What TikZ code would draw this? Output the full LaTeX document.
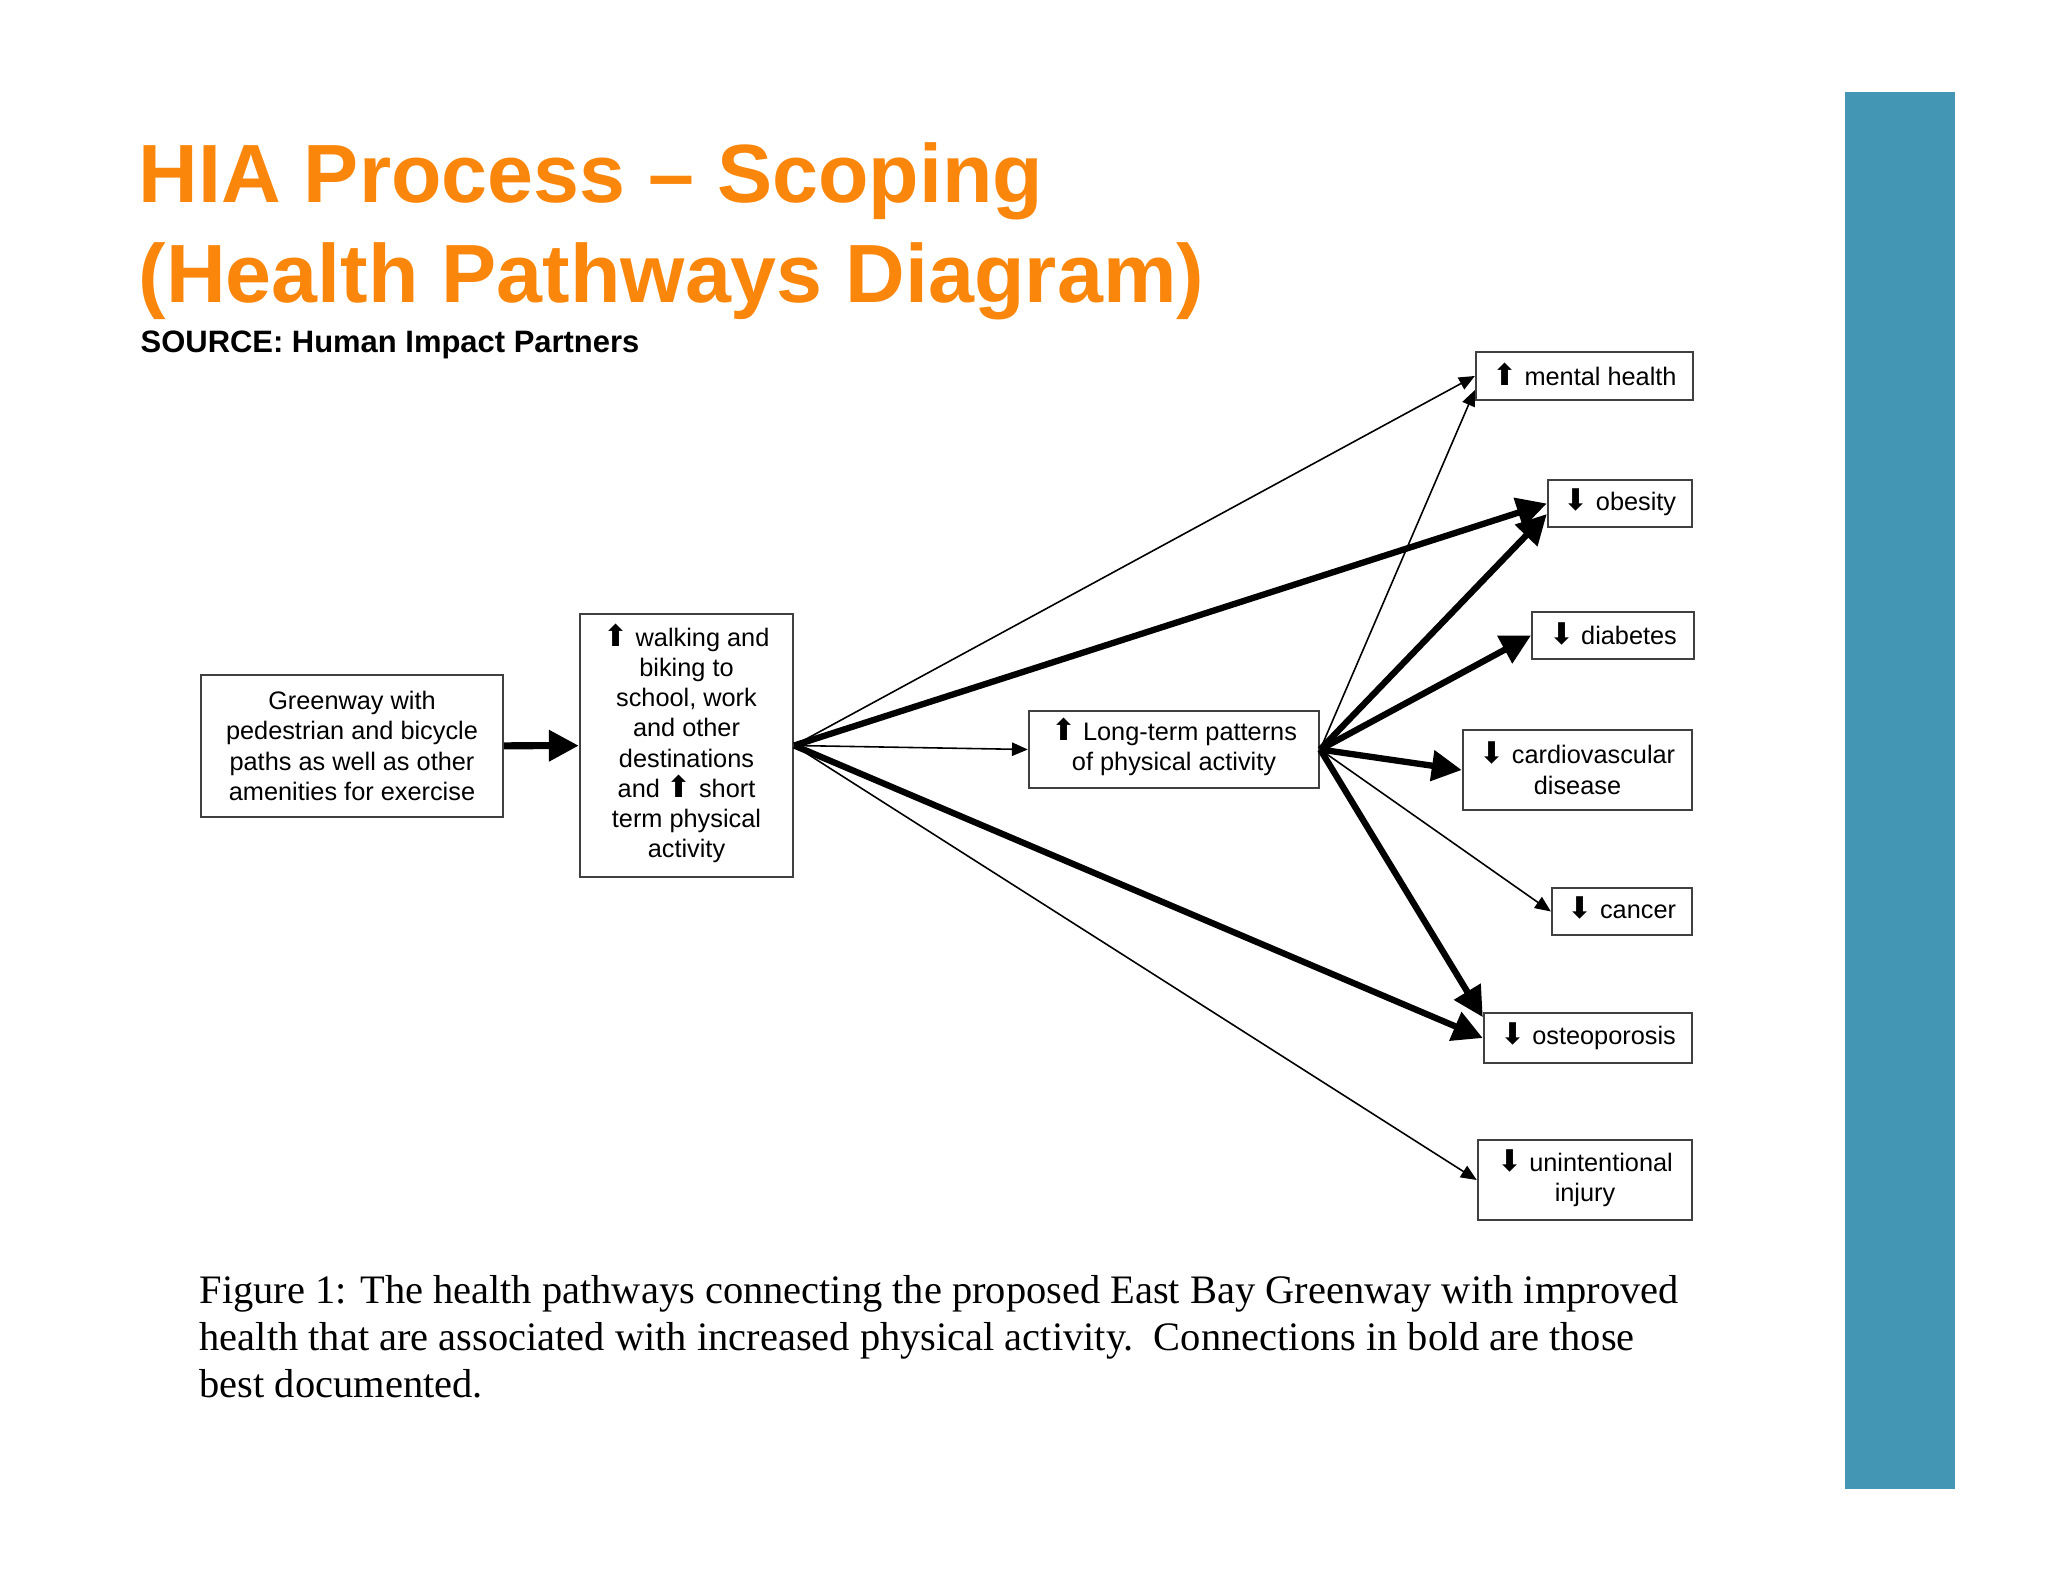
\documentclass[tikz,border=0pt]{standalone}
\usepackage{fontspec}
\setmainfont{Liberation Sans}
\newfontfamily\capfont{Liberation Serif}
\newfontfamily\arrfont{DejaVu Sans}
\usetikzlibrary{arrows.meta}
\definecolor{hiaorange}{RGB}{250,134,12}
\definecolor{hiablue}{RGB}{67,150,180}
\newcommand\boxfont{\fontsize{7.2}{8.6}\selectfont}
\newcommand\titlefont{\fontsize{23.5}{28}\selectfont\bfseries}
\newcommand\uparr{\smash{\arrfont\fontsize{8.5}{6}\selectfont ⬆}}
\newcommand\dnarr{\smash{\arrfont\fontsize{8.5}{6}\selectfont ⬇}}

\begin{document}
\begin{tikzpicture}[x=0.01cm,y=-0.01cm,
  box/.style={draw=black!75,line width=0.65pt,fill=white,align=center,font=\boxfont,inner sep=0pt},
  weak/.style={-{Triangle[length=4.5pt,width=3.8pt]},line width=0.45pt},
  strong/.style={-{Triangle[length=8.5pt,width=8.5pt]},line width=1.8pt}]
\useasboundingbox (0,0) rectangle (2048,1582);
\fill[hiablue] (1845,92) rectangle (1955,1489);
\node[anchor=base west,inner sep=0pt,text=hiaorange,font=\titlefont] (title) at (138,203) {HIA Process – Scoping};
\node[anchor=base west,inner sep=0pt,text=hiaorange,font=\titlefont] (title2) at (138,303) {(Health Pathways Diagram)};
\node[anchor=base west,inner sep=0pt,font=\fontsize{8.8}{10}\selectfont\bfseries] (source) at (140,352) {SOURCE: Human Impact Partners};

\node[box,minimum width=85.9pt,minimum height=40.4pt] (green) at (352,746) {Greenway with\\pedestrian and bicycle\\paths as well as other\\amenities for exercise};
\node[box,minimum width=60.6pt,minimum height=74.8pt] (walk) at (686.5,745.5) {\uparr{} walking and\\biking to\\school, work\\and other\\destinations\\and \uparr{} short\\term physical\\activity};
\node[box,minimum width=82.5pt,minimum height=21.9pt] (pattern) at (1174,749.5) {\uparr{} Long-term patterns\\of physical activity};
\node[box,minimum width=61.7pt,minimum height=13.7pt] (mental) at (1584.5,376) {\uparr{} mental health};
\node[box,minimum width=41pt,minimum height=13.4pt] (obesity) at (1620,503.5) {\dnarr{} obesity};
\node[box,minimum width=46pt,minimum height=13.4pt] (diabetes) at (1613,635.5) {\dnarr{} diabetes};
\node[box,minimum width=65.2pt,minimum height=22.8pt] (cardio) at (1577.5,770) {\dnarr{} cardiovascular\\disease};
\node[box,minimum width=39.8pt,minimum height=13.4pt] (cancer) at (1622,911.5) {\dnarr{} cancer};
\node[box,minimum width=59.2pt,minimum height=14.2pt] (osteo) at (1588,1038) {\dnarr{} osteoporosis};
\node[box,minimum width=60.9pt,minimum height=22.8pt] (injury) at (1585,1180) {\dnarr{} unintentional\\injury};

\draw[strong,line width=2pt] (green) -- (walk);
\draw[weak] (walk.east) -- (mental.west);
\draw[strong] (walk.east) -- (obesity.west);
\draw[weak] (walk.east) -- (pattern.west);
\draw[strong] (walk.east) -- (osteo.west);
\draw[weak] (walk.east) -- (injury.west);
\draw[weak] (pattern.east) -- ([yshift=-4pt]mental.west);
\draw[strong] (pattern.east) -- ([yshift=-3pt]obesity.west);
\draw[strong] (pattern.east) -- (diabetes.west);
\draw[strong] (pattern.east) -- (cardio.west);
\draw[weak] (pattern.east) -- (cancer.west);
\draw[strong] (pattern.east) -- ([yshift=-1.5pt]osteo.north west);

\node[anchor=north west,inner sep=0pt,align=left,font=\capfont\fontsize{11.5}{13.3}\selectfont] (caption) at (199,1275) {Figure 1: The health pathways connecting the proposed East Bay Greenway with improved\\health that are associated with increased physical activity.\ \ Connections in bold are those\\best documented.};
\end{tikzpicture}
\end{document}
